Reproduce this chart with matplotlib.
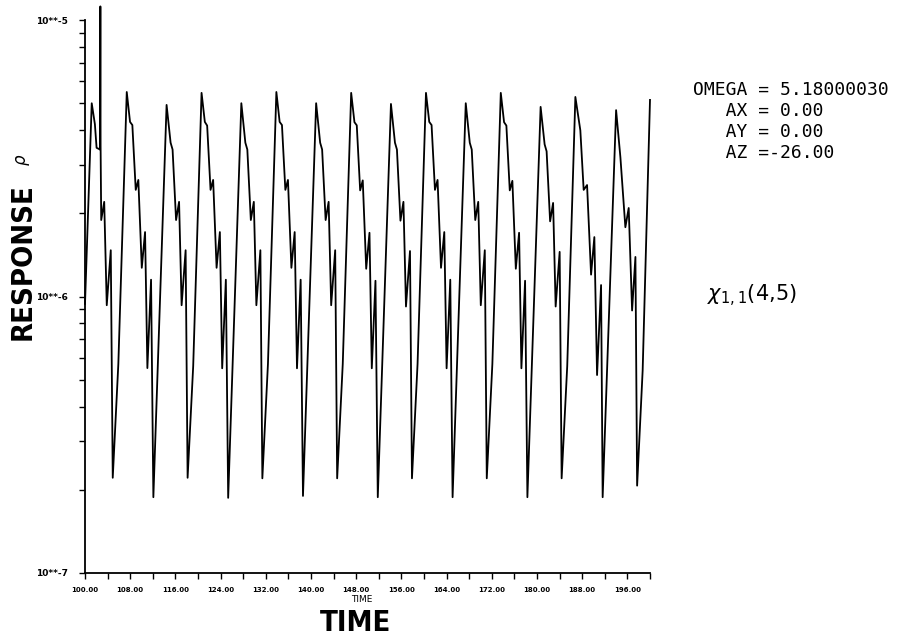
import os
import matplotlib
matplotlib.use("Agg")
import matplotlib.pyplot as plt
from matplotlib import font_manager as fm
from matplotlib.ticker import LogLocator, NullFormatter

# ---- data ----
time = [
    100.00, 101.19, 101.75, 102.05, 102.66, 102.72, 102.76, 102.87, 103.40, 103.85, 104.56, 104.91, 105.90,
    107.39, 107.97, 108.38, 108.98, 109.44, 110.05, 110.63, 111.04, 111.69, 112.10,
    114.44, 115.15, 115.50, 116.12, 116.65, 117.10, 117.81, 118.16, 119.15,
    120.63, 121.21, 121.62, 122.22, 122.68, 123.29, 123.87, 124.28, 124.93, 125.34,
    127.67, 128.38, 128.73, 129.35, 129.88, 130.33, 131.04, 131.39, 132.38,
    133.87, 134.45, 134.86, 135.46, 135.92, 136.53, 137.11, 137.52, 138.17, 138.58,
    140.91, 141.62, 141.97, 142.59, 143.12, 143.57, 144.28, 144.63, 145.62,
    147.11, 147.69, 148.10, 148.70, 149.16, 149.77, 150.35, 150.76, 151.41, 151.82,
    154.15, 154.86, 155.21, 155.83, 156.36, 156.81, 157.52, 157.87, 158.86,
    160.35, 160.93, 161.34, 161.94, 162.40, 163.01, 163.59, 164.00, 164.65, 165.06,
    167.39, 168.10, 168.45, 169.07, 169.60, 170.05, 170.76, 171.11, 172.10,
    173.59, 174.17, 174.58, 175.18, 175.64, 176.25, 176.83, 177.24, 177.89, 178.30,
    180.64, 181.35, 181.70, 182.32, 182.85, 183.30, 184.01, 184.36, 185.35,
    186.79, 187.67, 188.26, 188.86, 189.57, 190.15, 190.63, 191.34, 191.62,
    194.00, 194.76, 195.64, 196.23, 196.83, 197.42, 197.72, 198.70,
    200.00,
]
response = [
    9.4e-7, 5.0e-6, 4.2e-6, 3.45e-6, 3.4e-6, 1.12e-5, 3.5e-6, 1.89e-6, 2.2e-6, 9.3e-7, 1.47e-6, 2.21e-7, 5.7e-7,
    5.49e-6, 4.28e-6, 4.17e-6, 2.43e-6, 2.64e-6, 1.27e-6, 1.71e-6, 5.51e-7, 1.15e-6, 1.88e-7,
    4.93e-6, 3.6e-6, 3.4e-6, 1.89e-6, 2.20e-6, 9.3e-7, 1.47e-6, 2.21e-7, 5.6e-7,
    5.45e-6, 4.28e-6, 4.15e-6, 2.43e-6, 2.64e-6, 1.27e-6, 1.71e-6, 5.5e-7, 1.15e-6, 1.87e-7,
    5.0e-6, 3.6e-6, 3.4e-6, 1.89e-6, 2.2e-6, 9.3e-7, 1.47e-6, 2.2e-7, 5.7e-7,
    5.49e-6, 4.28e-6, 4.17e-6, 2.43e-6, 2.64e-6, 1.27e-6, 1.71e-6, 5.5e-7, 1.15e-6, 1.9e-7,
    5.0e-6, 3.6e-6, 3.4e-6, 1.89e-6, 2.2e-6, 9.3e-7, 1.47e-6, 2.2e-7, 5.7e-7,
    5.45e-6, 4.27e-6, 4.16e-6, 2.42e-6, 2.63e-6, 1.26e-6, 1.70e-6, 5.5e-7, 1.14e-6, 1.88e-7,
    4.97e-6, 3.6e-6, 3.4e-6, 1.88e-6, 2.2e-6, 9.2e-7, 1.46e-6, 2.2e-7, 5.7e-7,
    5.45e-6, 4.28e-6, 4.17e-6, 2.43e-6, 2.64e-6, 1.27e-6, 1.71e-6, 5.5e-7, 1.15e-6, 1.88e-7,
    5.0e-6, 3.6e-6, 3.4e-6, 1.89e-6, 2.2e-6, 9.3e-7, 1.47e-6, 2.2e-7, 5.7e-7,
    5.45e-6, 4.27e-6, 4.15e-6, 2.42e-6, 2.62e-6, 1.26e-6, 1.70e-6, 5.5e-7, 1.14e-6, 1.88e-7,
    4.85e-6, 3.55e-6, 3.35e-6, 1.87e-6, 2.18e-6, 9.2e-7, 1.45e-6, 2.2e-7, 5.6e-7,
    5.27e-6, 3.99e-6, 2.43e-6, 2.53e-6, 1.20e-6, 1.64e-6, 5.2e-7, 1.10e-6, 1.88e-7,
    4.72e-6, 3.19e-6, 1.78e-6, 2.09e-6, 8.9e-7, 1.39e-6, 2.07e-7, 5.4e-7,
    5.14e-6,
]

x_major = [100, 108, 116, 124, 132, 140, 148, 156, 164, 172, 180, 188, 196]
x_minor = [104, 112, 120, 128, 136, 144, 152, 160, 168, 176, 184, 192, 200]
x_labels = ["100.00", "108.00", "116.00", "124.00", "132.00", "140.00", "148.00",
            "156.00", "164.00", "172.00", "180.00", "188.00", "196.00"]
y_major = [1e-7, 1e-6, 1e-5]
y_labels = ["10**-7", "10**-6", "10**-5"]

param_lines = ["OMEGA = 5.18000030", "   AX = 0.00", "   AY = 0.00", "   AZ =-26.00"]
curve_label = r"$\chi_{1,1}$(4,5)"


def condensed_bold(size):
    """Find an installed condensed bold face; fall back to Liberation Sans bold."""
    prefs = ["notosanscondensedbold", "notosansdisplaycondensedbold",
             "dejavusanscondensedbold", "liberationsansnarrowbold",
             "opensanscondensedbold", "robotocondensedbold"]
    files = {}
    for f in fm.fontManager.ttflist:
        key = os.path.basename(f.fname).lower().rsplit(".", 1)[0]
        key = key.replace("-", "").replace("_", "").replace(" ", "")
        files[key] = f.fname
    for p in prefs:
        if p in files:
            return fm.FontProperties(fname=files[p], size=size)
    return fm.FontProperties(family=["Liberation Sans", "DejaVu Sans"],
                             weight="bold", size=size)


# ---- figure ----
W, H = 899, 640
fig = plt.figure(figsize=(W / 100, H / 100), dpi=100)
fig.patch.set_facecolor("white")
ax = fig.add_axes([85 / W, 67 / H, 565 / W, 553 / H])

ax.plot(time, response, color="black", lw=1.3, clip_on=False)
ax.set_yscale("log")
ax.set_xlim(100, 200)
ax.set_ylim(1e-7, 1e-5)

for s in ("top", "right"):
    ax.spines[s].set_visible(False)
for s in ("left", "bottom"):
    ax.spines[s].set_linewidth(1.3)

ax.set_xticks(x_major)
ax.set_xticks(x_minor, minor=True)
ax.set_xticklabels(x_labels, fontsize=5, fontweight="bold")
ax.set_yticks(y_major)
ax.set_yticklabels(y_labels, fontsize=6.5, fontweight="bold")
ax.yaxis.set_minor_locator(LogLocator(base=10, subs=range(2, 10)))
ax.yaxis.set_minor_formatter(NullFormatter())
ax.tick_params(which="both", direction="out", length=4, width=1, colors="black")
ax.tick_params(axis="x", pad=6)
ax.tick_params(axis="y", pad=8)

fig.text(362 / W, 1 - 600 / H, "TIME", ha="center", va="center", fontsize=6.5)
fig.text(356 / W, 1 - 623 / H, "TIME", ha="center", va="center",
         fontproperties=condensed_bold(21))
fig.text(23 / W, 1 - 262 / H, "RESPONSE", rotation=90, ha="center", va="center",
         fontproperties=condensed_bold(21))
fig.text(23 / W, 1 - 160 / H, r"$\rho$", rotation=90, ha="center", va="center",
         fontsize=12)

for i, line in enumerate(param_lines):
    fig.text(693 / W, 1 - (95 + 21 * i) / H, line, ha="left", va="baseline",
             fontsize=13, family="DejaVu Sans Mono")

fig.text(707 / W, 1 - 296 / H, curve_label, ha="left", va="center", fontsize=15)

fig.savefig("out.png", dpi=100, facecolor="white")
